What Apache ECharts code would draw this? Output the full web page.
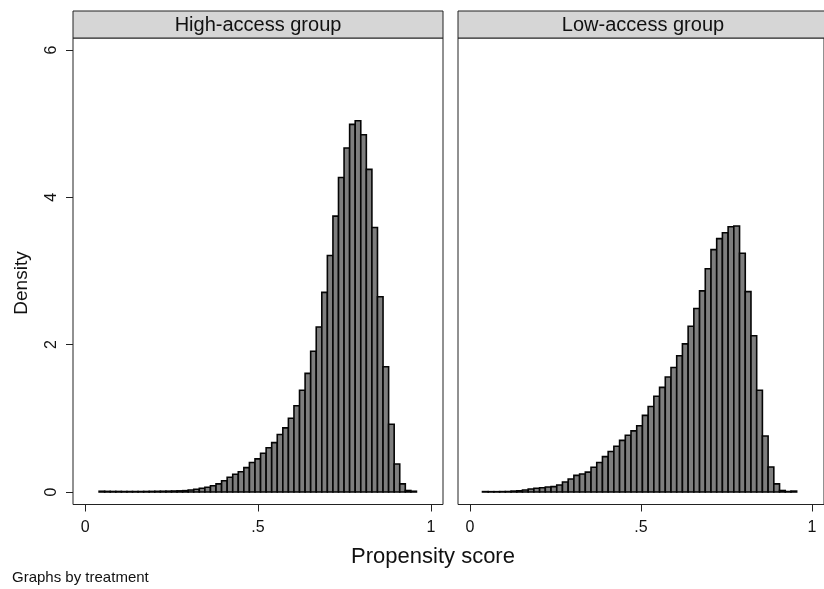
<!DOCTYPE html>
<html>
<head>
<meta charset="utf-8">
<script src="https://cdn.jsdelivr.net/npm/echarts@6/dist/echarts.min.js"></script>
<style>
  html, body { margin: 0; padding: 0; background: #fff; }
  #main { width: 824px; height: 589px; }
</style>
</head>
<body>
<div id="main"></div>
<script>
// histogram densities, one value per bin
var leftDensity = [
    0.010, 0.008, 0.007, 0.007, 0.006, 0.006, 0.006, 0.006, 0.007, 0.008,
    0.009, 0.010, 0.011, 0.013, 0.015, 0.018, 0.027, 0.037, 0.050, 0.064,
    0.085, 0.110, 0.153, 0.200, 0.240, 0.275, 0.330, 0.400, 0.450, 0.525,
    0.600, 0.670, 0.780, 0.870, 1.000, 1.170, 1.380, 1.610, 1.910, 2.240,
    2.710, 3.210, 3.745, 4.270, 4.670, 4.990, 5.040, 4.850, 4.380, 3.590,
    2.650, 1.700, 0.920, 0.380, 0.110, 0.020, 0.010
];
var rightDensity = [
    0.005, 0.004, 0.004, 0.005, 0.006, 0.012, 0.016, 0.027, 0.040, 0.050,
    0.058, 0.068, 0.072, 0.095, 0.136, 0.176, 0.225, 0.244, 0.270, 0.335,
    0.400, 0.480, 0.550, 0.620, 0.700, 0.770, 0.830, 0.900, 1.040, 1.160,
    1.300, 1.420, 1.560, 1.690, 1.850, 2.010, 2.250, 2.490, 2.730, 3.030,
    3.290, 3.440, 3.520, 3.600, 3.610, 3.240, 2.720, 2.120, 1.380, 0.760,
    0.340, 0.110, 0.020, 0.006, 0.012
];
var leftStart = 0.0405, leftWidth = 0.0161;
var rightStart = 0.0366, rightWidth = 0.0167;

var panelTitles = ['High-access group', 'Low-access group'];
var xTickValues = [0, 0.5, 1];
var xTickLabels = ['0', '.5', '1'];
var yTickValues = [0, 2, 4, 6];

function toBins(dens, start, width) {
    var out = [];
    for (var i = 0; i < dens.length; i++) {
        out.push([start + i * width, start + (i + 1) * width, dens[i]]);
    }
    return out;
}

function renderBar(params, api) {
    var p0 = api.coord([api.value(0), api.value(2)]);
    var p1 = api.coord([api.value(1), 0]);
    return {
        type: 'rect',
        shape: { x: p0[0], y: p0[1], width: p1[0] - p0[0], height: p1[1] - p0[1] },
        style: { fill: '#7e7e7e', stroke: '#050505', lineWidth: 1.6 }
    };
}

var font = '"Liberation Sans", Arial, sans-serif';

function xAxisFor(idx) {
    return {
        type: 'value', gridIndex: idx, min: -0.035, max: 1.035,
        axisLine: { show: false, onZero: false },
        splitLine: { show: false },
        axisTick: { show: true, length: 7, customValues: xTickValues, lineStyle: { color: '#222' } },
        axisLabel: {
            customValues: xTickValues, margin: 15, color: '#111', fontSize: 16, fontFamily: font,
            formatter: function (v) { return xTickLabels[xTickValues.indexOf(v)]; }
        }
    };
}

function yAxisFor(idx, showLabels) {
    return {
        type: 'value', gridIndex: idx, min: -0.17, max: 6.163,
        axisLine: { show: false, onZero: false },
        splitLine: { show: false },
        axisTick: { show: showLabels, length: 7, customValues: yTickValues, lineStyle: { color: '#222' } },
        axisLabel: {
            show: showLabels, customValues: yTickValues, rotate: 90, margin: 13,
            color: '#111', fontSize: 16, fontFamily: font
        }
    };
}

var chartDom = document.getElementById('main');
var myChart = echarts.init(chartDom, null, { renderer: 'canvas' });
var option = {
    backgroundColor: '#fff',
    animation: false,
    grid: [
        { left: 73, top: 38, width: 370, height: 466.5, show: true, borderColor: '#222', borderWidth: 1, backgroundColor: '#fff' },
        { left: 458, top: 38, width: 371, height: 466.5, show: true, borderColor: '#222', borderWidth: 1, backgroundColor: '#fff' }
    ],
    xAxis: [xAxisFor(0), xAxisFor(1)],
    yAxis: [yAxisFor(0, true), yAxisFor(1, false)],
    graphic: [
        { type: 'rect', shape: { x: 73, y: 11, width: 370, height: 27 }, style: { fill: '#d6d6d6', stroke: '#222', lineWidth: 1 } },
        { type: 'rect', shape: { x: 458, y: 11, width: 371, height: 27 }, style: { fill: '#d6d6d6', stroke: '#222', lineWidth: 1 } },
        { type: 'text', x: 258, y: 25, style: { text: panelTitles[0], fill: '#111', font: '20px ' + font, textAlign: 'center', textVerticalAlign: 'middle' } },
        { type: 'text', x: 643, y: 25, style: { text: panelTitles[1], fill: '#111', font: '20px ' + font, textAlign: 'center', textVerticalAlign: 'middle' } },
        { type: 'text', x: 22, y: 283, rotation: Math.PI / 2, style: { text: 'Density', fill: '#111', font: '19px ' + font, textAlign: 'center', textVerticalAlign: 'middle' } },
        { type: 'text', x: 433, y: 557, style: { text: 'Propensity score', fill: '#111', font: '22px ' + font, textAlign: 'center', textVerticalAlign: 'middle' } },
        { type: 'text', x: 12, y: 578, style: { text: 'Graphs by treatment', fill: '#111', font: '15px ' + font, textAlign: 'left', textVerticalAlign: 'middle' } }
    ],
    series: [
        { type: 'custom', xAxisIndex: 0, yAxisIndex: 0, renderItem: renderBar, data: toBins(leftDensity, leftStart, leftWidth) },
        { type: 'custom', xAxisIndex: 1, yAxisIndex: 1, renderItem: renderBar, data: toBins(rightDensity, rightStart, rightWidth) }
    ]
};
myChart.setOption(option);
</script>
</body>
</html>
